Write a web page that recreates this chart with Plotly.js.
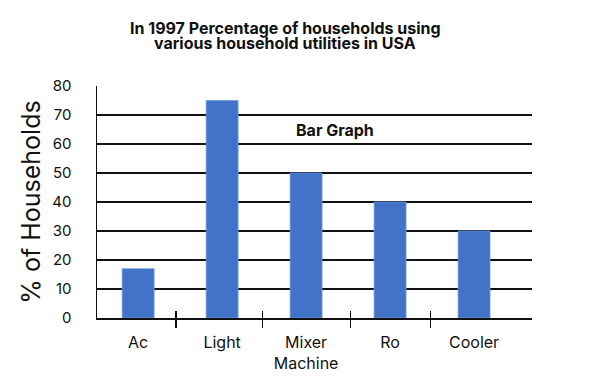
<!DOCTYPE html>
<html>
<head>
<meta charset="utf-8">
<script src="https://cdn.plot.ly/plotly-3.0.1.min.js"></script>
<style>html,body{margin:0;padding:0;background:#fff;}#chart{width:601px;height:377px;}</style>
</head>
<body>
<div id="chart"></div>
<script>
const categories = ["Ac", "Light", "Mixer Machine", "Ro", "Cooler"];
const tickLabels = ["Ac", "Light", "Mixer<br>Machine", "Ro", "Cooler"];
const percentages = [17, 75, 50, 40, 30];
const yTicks = [0, 10, 20, 30, 40, 50, 60, 70, 80];
const dividerTicks = [0.45, 1.48, 2.53, 3.48];
const titleLines = ["In 1997 Percentage of households using", "various household utilities in USA"];

const xRange = [-0.49, 4.69];
const font = "Inter, 'Noto Sans', sans-serif";

const data = [
  {
    type: "bar",
    x: categories,
    y: percentages,
    marker: { color: "#4174c8", line: { color: "#6f95d6", width: 0.8 } },
    width: 0.38,
    hoverinfo: "x+y"
  },
  { type: "scatter", x: [], y: [], xaxis: "x2", yaxis: "y", showlegend: false },
  { type: "scatter", x: [], y: [], xaxis: "x3", yaxis: "y", showlegend: false }
];

const layout = {
  width: 601,
  height: 377,
  margin: { l: 97, r: 69, t: 86, b: 59 },
  paper_bgcolor: "#fff",
  plot_bgcolor: "#fff",
  showlegend: false,
  font: { family: font, color: "#111" },
  xaxis: {
    type: "category",
    range: xRange,
    tickvals: categories,
    ticktext: tickLabels,
    ticks: "",
    showgrid: false,
    zeroline: false,
    showline: true,
    linecolor: "#111",
    linewidth: 1.5,
    tickfont: { family: font, size: 16, color: "#111" },
    ticklabelstandoff: 9,
    fixedrange: true
  },
  xaxis2: {
    overlaying: "x",
    anchor: "y",
    side: "bottom",
    range: xRange,
    tickvals: dividerTicks,
    ticktext: dividerTicks.map(() => ""),
    ticks: "outside",
    ticklen: 9,
    tickwidth: 1.5,
    tickcolor: "#111",
    showgrid: false,
    zeroline: false,
    showline: false
  },
  xaxis3: {
    overlaying: "x",
    anchor: "y",
    side: "bottom",
    range: xRange,
    tickvals: dividerTicks,
    ticktext: dividerTicks.map(() => ""),
    ticks: "inside",
    ticklen: 7,
    tickwidth: 1.5,
    tickcolor: "#111",
    showgrid: false,
    zeroline: false,
    showline: false
  },
  yaxis: {
    range: [0, 80],
    tickvals: yTicks,
    ticks: "",
    showgrid: true,
    gridcolor: "#111",
    gridwidth: 1.5,
    zeroline: false,
    showline: true,
    linecolor: "#111",
    linewidth: 1.5,
    tickfont: { family: font, size: 15, color: "#111" },
    ticklabelstandoff: 21,
    title: { text: "% of Households", font: { family: font, size: 25, color: "#111" }, standoff: 4 },
    fixedrange: true
  },
  annotations: [
    {
      text: "<b>" + titleLines[0] + "</b>",
      xref: "paper", yref: "paper",
      x: 0.433, y: 1.25,
      xanchor: "center", yanchor: "middle",
      showarrow: false,
      font: { family: font, size: 16, color: "#111" }
    },
    {
      text: "<b>" + titleLines[1] + "</b>",
      xref: "paper", yref: "paper",
      x: 0.433, y: 1.185,
      xanchor: "center", yanchor: "middle",
      showarrow: false,
      font: { family: font, size: 16, color: "#111" }
    },
    {
      text: "<b>Bar Graph</b>",
      xref: "paper", yref: "y",
      x: 0.546, y: 65,
      xanchor: "center", yanchor: "middle",
      showarrow: false,
      font: { family: font, size: 16, color: "#111" }
    }
  ]
};

Plotly.newPlot("chart", data, layout, { displayModeBar: false, staticPlot: true });
</script>
</body>
</html>
